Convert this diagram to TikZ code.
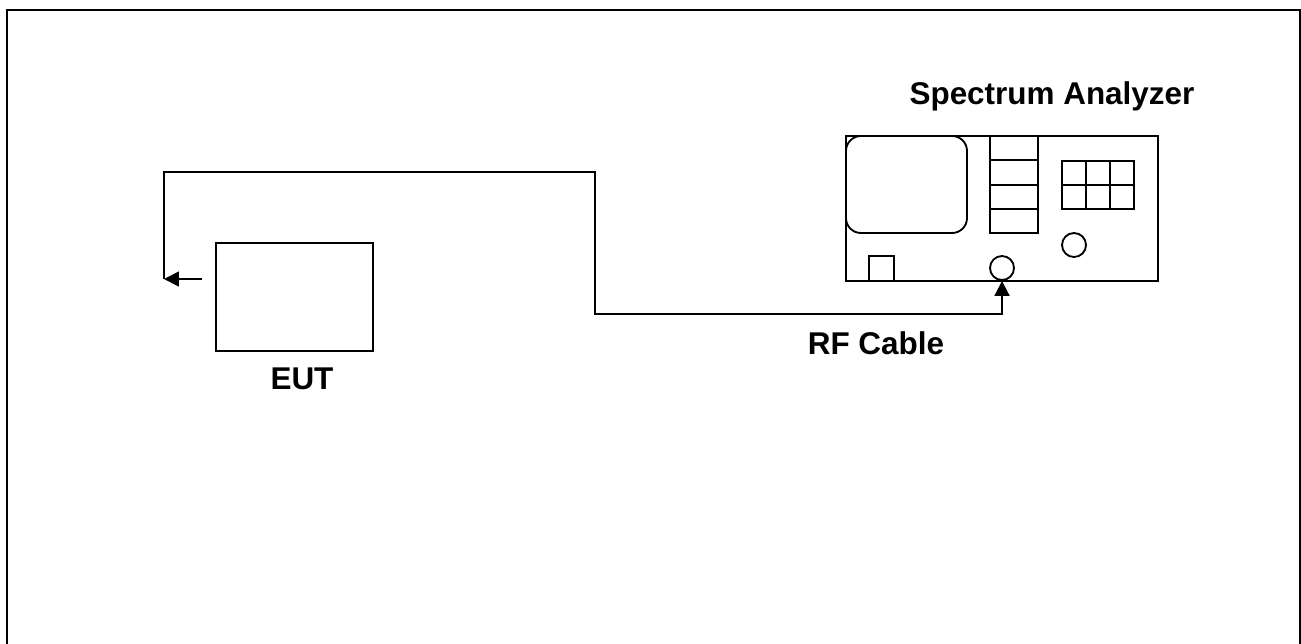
\documentclass[tikz,border=0pt]{standalone}
\usepackage{fontspec}
\setmainfont{Liberation Sans}
\usetikzlibrary{arrows.meta}
\begin{document}
\begin{tikzpicture}[x=0.02cm,y=-0.02cm,line width=1.05pt,
	lbl/.style={font=\bfseries\fontsize{17.9}{21}\selectfont,anchor=base},
	box/.style={draw,inner sep=0pt},
	tip/.style={-{Triangle[length=8.5pt,width=8.5pt]}}]
	
	\useasboundingbox (0,0) rectangle (1301,643);
	\draw[line width=1.4pt] (7,660) -- (7,10) -- (1300,10) -- (1300,660);
	
	% EUT
	\node[box,minimum width=3.14cm,minimum height=2.16cm] (eut) at (294.5,297) {};
	\node[lbl] (euttext) at (302,389) {EUT};
	\coordinate (in) at (164,279);
	
	% spectrum analyzer
	\node[box,minimum width=6.24cm,minimum height=2.9cm] (sa) at (1002,208.5) {};
	\node[lbl] (satext) at (1052,104) {Spectrum Analyzer};
	\draw[rounded corners=8.5pt] (846,136) rectangle (967,233);
	\foreach \y in {136,160,185,209}
	{
		\draw (990,\y) rectangle (1038,233);
	}
	\foreach \x in {1062,1086,1110}
	\foreach \y in {161,185}
	{
		\draw (\x,\y) rectangle (\x+24,\y+24);
	}
	\draw (869,256) rectangle (894,281);
	\node[box,circle,minimum size=0.48cm] (knob) at (1074,245) {};
	\node[box,circle,minimum size=0.48cm] (port) at (1002,268) {};
	
	% cable
	\draw[tip] ([xshift=-0.26cm]eut.west |- in) -- (in);
	\draw[tip] (in) |- (595,172) -- (595,314) -| (port.south);
	\node[lbl] (cabletext) at (876,354) {RF Cable};
\end{tikzpicture}
\end{document}
